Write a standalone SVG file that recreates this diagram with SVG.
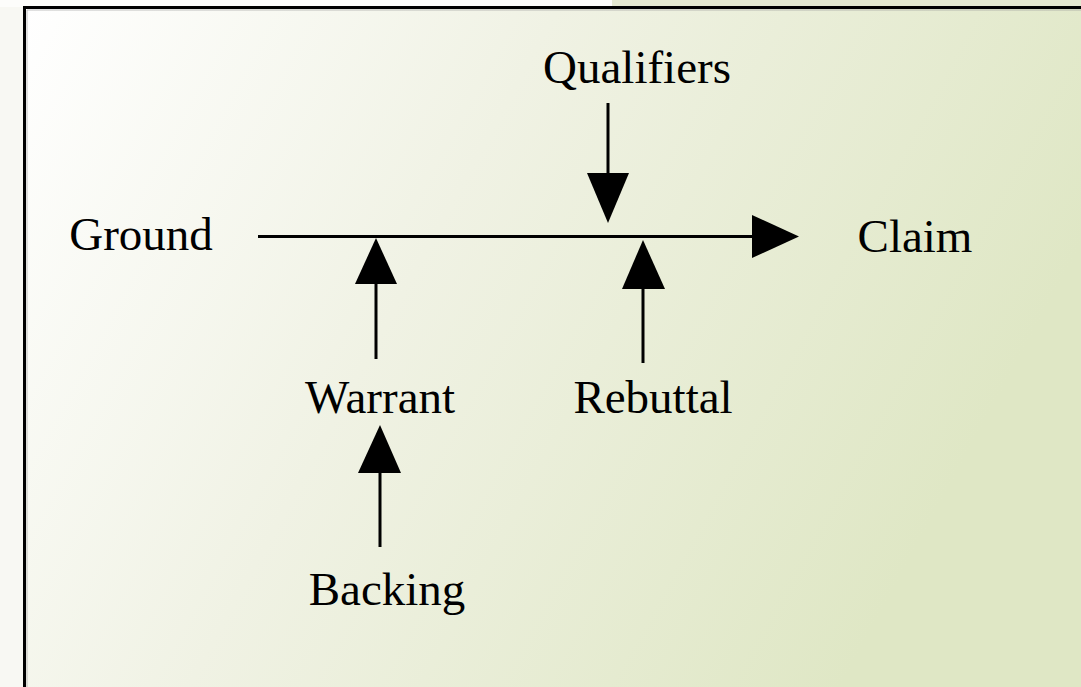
<svg xmlns="http://www.w3.org/2000/svg" width="1081" height="687" viewBox="0 0 1081 687">
<defs>
<linearGradient id="bg" x1="0" y1="0" x2="1" y2="0.35">
<stop offset="0" stop-color="#ffffff"/>
<stop offset="0.45" stop-color="#f0f2e4"/>
<stop offset="1" stop-color="#dfe7c5"/>
</linearGradient>
<style>
.t{font-family:"Liberation Serif","Times New Roman",serif;font-size:47px;fill:#000}
.ln{stroke:#000;stroke-width:3;fill:none}
.ah{fill:#000}
</style>
</defs>
<rect x="0" y="0" width="1081" height="687" fill="#f8f8f3"/>
<rect x="0" y="0" width="612" height="7" fill="#fdfdfb"/>
<rect x="612" y="0" width="469" height="7" fill="#e4e8d0"/>
<rect x="24" y="8" width="1057" height="679" fill="url(#bg)"/>
<path d="M24.5,687 V7.5 H1081" stroke="#000" stroke-width="3" fill="none"/>
<path d="M27,687 V10 H1081" stroke="#999" stroke-width="1" fill="none" opacity="0.6"/>
<g id="connectors">
<line class="ln" x1="258" y1="236.5" x2="755" y2="236.5"/>
<polygon class="ah" points="752,215 799,236.5 752,258"/>
<line class="ln" x1="608" y1="103" x2="608" y2="176"/>
<polygon class="ah" points="587,173 629,173 608,223"/>
<line class="ln" x1="376" y1="280" x2="376" y2="359"/>
<polygon class="ah" points="355,284 397,284 376,238"/>
<line class="ln" x1="643" y1="285" x2="643" y2="363"/>
<polygon class="ah" points="622,289 665,289 643,240"/>
<line class="ln" x1="380" y1="470" x2="380" y2="547"/>
<polygon class="ah" points="358,473 401,473 380,425"/>
</g>
<g id="qualifiers"><text class="t" x="637" y="83" text-anchor="middle">Qualifiers</text></g>
<g id="ground"><text class="t" x="141" y="250" text-anchor="middle">Ground</text></g>
<g id="claim"><text class="t" x="915" y="252" text-anchor="middle">Claim</text></g>
<g id="warrant"><text class="t" x="380" y="413" text-anchor="middle">Warrant</text></g>
<g id="rebuttal"><text class="t" x="653" y="413" text-anchor="middle">Rebuttal</text></g>
<g id="backing"><text class="t" x="387" y="605" text-anchor="middle">Backing</text></g>
</svg>
